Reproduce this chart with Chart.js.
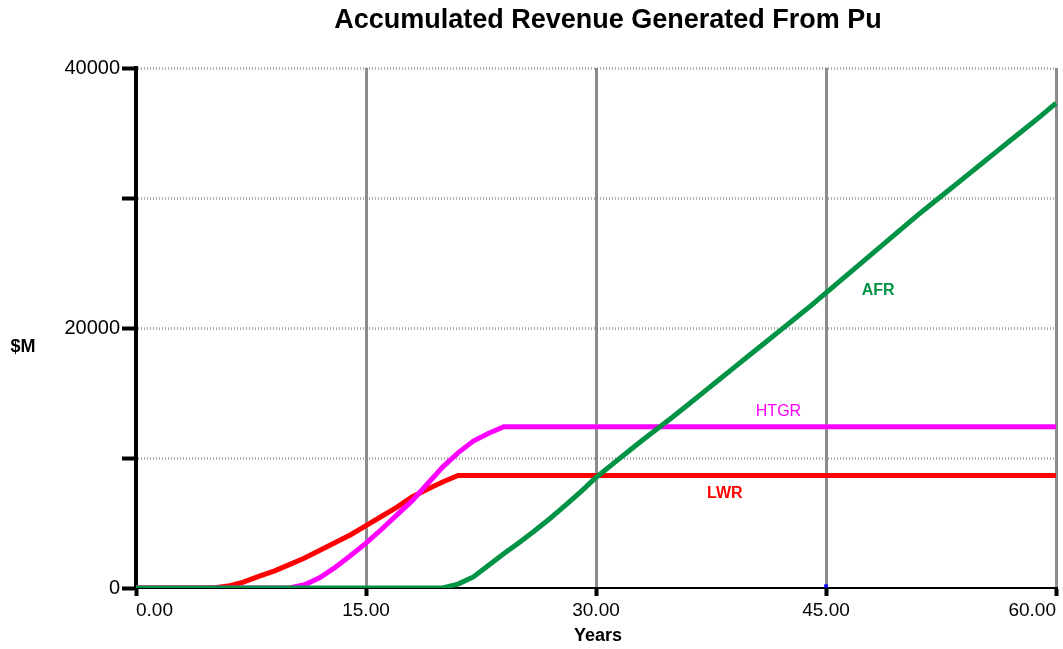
<!DOCTYPE html>
<html>
<head>
<meta charset="utf-8">
<title>Accumulated Revenue Generated From Pu</title>
<script src="https://cdn.jsdelivr.net/npm/chart.js@4/dist/chart.umd.min.js"></script>
<style>
  body { margin: 0; background: #ffffff; }
  #wrap { width: 1063px; height: 649px; }
</style>
</head>
<body>
<div id="wrap"><canvas id="pu-canvas" width="1063" height="649"></canvas></div>
<script>
let chartTitle = "Accumulated Revenue Generated From Pu";
let xTitle = "Years";
let yTitle = "$M";

// years 0..60
let years = [];
for (let i = 0; i <= 60; i++) years.push(i);

let lwrValues = [0, 0, 0, 0, 0, 0, 150, 450, 900, 1300, 1800,
  2300, 2900, 3500, 4100, 4800, 5500, 6200, 7000, 7600, 8150,
  8650, 8650, 8650, 8650, 8650, 8650, 8650, 8650, 8650, 8650,
  8650, 8650, 8650, 8650, 8650, 8650, 8650, 8650, 8650, 8650,
  8650, 8650, 8650, 8650, 8650, 8650, 8650, 8650, 8650, 8650,
  8650, 8650, 8650, 8650, 8650, 8650, 8650, 8650, 8650, 8650];

let htgrValues = [0, 0, 0, 0, 0, 0, 0, 0, 0, 0, 0,
  250, 800, 1600, 2500, 3450, 4500, 5600, 6700, 8000, 9300,
  10400, 11300, 11900, 12400, 12400, 12400, 12400, 12400, 12400, 12400,
  12400, 12400, 12400, 12400, 12400, 12400, 12400, 12400, 12400, 12400,
  12400, 12400, 12400, 12400, 12400, 12400, 12400, 12400, 12400, 12400,
  12400, 12400, 12400, 12400, 12400, 12400, 12400, 12400, 12400, 12400];

let afrValues = [0, 0, 0, 0, 0, 0, 0, 0, 0, 0, 0,
  0, 0, 0, 0, 0, 0, 0, 0, 0, 0,
  300, 850, 1750, 2650, 3500, 4400, 5350, 6350, 7400, 8500,
  9450, 10400, 11350, 12250, 13150, 14100, 15050, 16000, 16950, 17900,
  18850, 19800, 20750, 21700, 22700, 23700, 24700, 25700, 26700, 27700,
  28700, 29650, 30600, 31550, 32500, 33450, 34400, 35350, 36300, 37300];

// stray marker at 45 years
let markerYears = [45];
let markerValues = [150];

let xTicks = [0, 15, 30, 45, 60];
let yTicks = [0, 10000, 20000, 30000, 40000];
let yLabelled = [0, 20000, 40000];

// series name labels placed in data units
let seriesLabels = [
  { text: "AFR", x: 48.4, y: 22900, color: "#009245", bold: true },
  { text: "HTGR", x: 41.9, y: 13550, color: "#ff00ff", bold: false },
  { text: "LWR", x: 38.4, y: 7300, color: "#ff0000", bold: true }
];

var puChart;

function toPoints(xs, ys) {
  return xs.map((x, i) => ({ x: x, y: ys[i] }));
}

function lineSet(label, xs, ys, color, order) {
  return {
    label: label,
    data: toPoints(xs, ys),
    borderColor: color,
    backgroundColor: color,
    borderWidth: 5,
    pointRadius: 0,
    tension: 0,
    order: order,
    clip: { left: 5, top: 5, right: 5, bottom: 0 }
  };
}

var textPlugin = {
  id: "texts",
  afterDraw(chart) {
    const ctx = chart.ctx;
    const xs = chart.scales.x;
    const ys = chart.scales.y;
    ctx.save();
    ctx.fillStyle = "#000000";
    ctx.textAlign = "center";
    ctx.textBaseline = "middle";
    ctx.font = "bold 27px 'Liberation Sans', Arial, sans-serif";
    ctx.fillText(chartTitle, 608, 21);
    ctx.font = "bold 18px 'Liberation Sans', Arial, sans-serif";
    ctx.fillText(xTitle, 598, 636);
    ctx.fillText(yTitle, 23, 347);
    seriesLabels.forEach(function(l) {
      ctx.fillStyle = l.color;
      ctx.font = (l.bold ? "bold " : "") + "16px 'Liberation Sans', Arial, sans-serif";
      ctx.fillText(l.text, xs.getPixelForValue(l.x), ys.getPixelForValue(l.y));
    });
    ctx.restore();
  }
};

function setRevenueChart() {
  var ctxPu = document.getElementById("pu-canvas");
  return new Chart(ctxPu, {
    type: 'line',
    data: {
      datasets: [
        {
          label: "marker",
          data: toPoints(markerYears, markerValues),
          showLine: false,
          pointStyle: 'rect',
          pointRadius: 2.5,
          pointBorderWidth: 0,
          backgroundColor: '#0000ff',
          borderColor: '#0000ff',
          order: 0
        },
        lineSet("AFR", years, afrValues, '#009245', 1),
        lineSet("HTGR", years, htgrValues, '#ff00ff', 2),
        lineSet("LWR", years, lwrValues, '#ff0000', 3)
      ]
    },
    options: {
      responsive: false,
      animation: false,
      layout: { padding: { top: 68, right: 7, bottom: 0, left: 0 } },
      plugins: {
        legend: { display: false },
        title: { display: false },
        tooltip: { enabled: false }
      },
      scales: {
        x: {
          type: 'linear',
          min: 0,
          max: 60,
          afterFit: function(s) { s.height = 61; },
          afterBuildTicks: function(s) { s.ticks = xTicks.map(v => ({ value: v })); },
          ticks: {
            align: 'inner',
            color: '#000000',
            padding: 3,
            font: { family: "'Liberation Sans', Arial, sans-serif", size: 19 },
            callback: function(v) { return Number(v).toFixed(2); }
          },
          grid: {
            color: function(c) { return c.tick && c.tick.value === 0 ? 'rgba(0,0,0,0)' : '#8c8c8c'; },
            lineWidth: 3,
            tickColor: '#000000',
            tickWidth: 4,
            tickLength: 8
          },
          border: { color: '#000000', width: 2 }
        },
        y: {
          min: 0,
          max: 40000,
          afterFit: function(s) { s.width = 136; },
          afterBuildTicks: function(s) { s.ticks = yTicks.map(v => ({ value: v })); },
          ticks: {
            color: '#000000',
            padding: 2,
            font: { family: "'Liberation Sans', Arial, sans-serif", size: 20 },
            callback: function(v) { return yLabelled.indexOf(v) >= 0 ? String(v) : ''; }
          },
          grid: {
            color: function(c) { return c.tick && c.tick.value === 0 ? 'rgba(0,0,0,0)' : 'rgba(120,120,120,0.6)'; },
            lineWidth: 3,
            tickBorderDash: [],
            tickColor: '#000000',
            tickWidth: 4,
            tickLength: 14
          },
          // in v4 the grid line dash comes from border.dash
          border: { color: '#000000', width: 4, dash: [1, 2] }
        }
      }
    },
    plugins: [textPlugin]
  });
}

puChart = setRevenueChart();
</script>
</body>
</html>
